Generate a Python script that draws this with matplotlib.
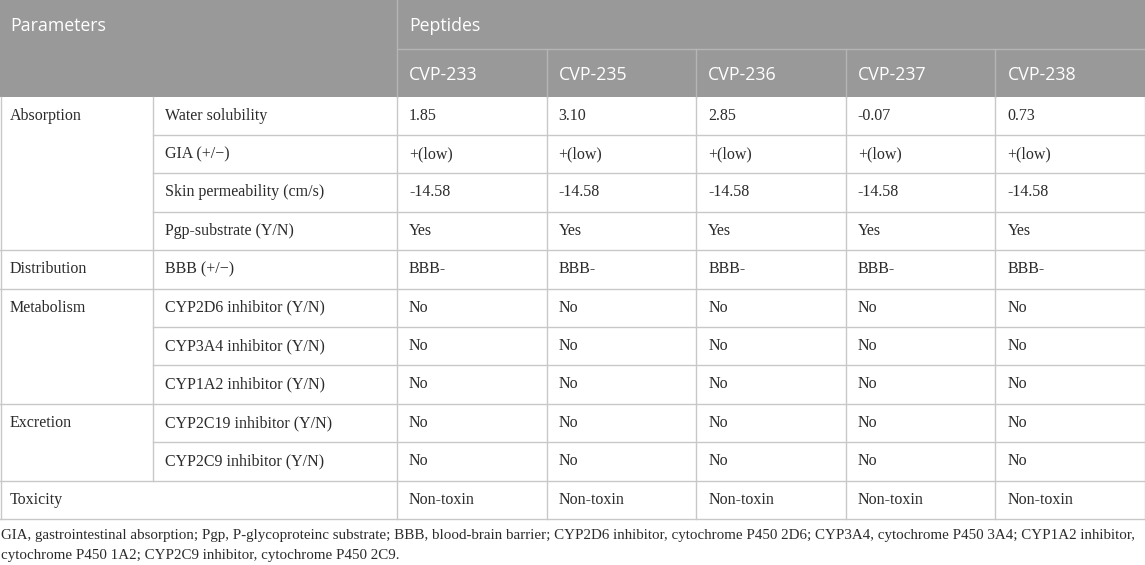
import matplotlib
matplotlib.use("Agg")
import matplotlib.pyplot as plt
from matplotlib.patches import Rectangle

# table content
peptides = ["CVP-233", "CVP-235", "CVP-236", "CVP-237", "CVP-238"]
groups = ["Absorption", "Distribution", "Metabolism", "Excretion", "Toxicity"]
group_sizes = [4, 1, 3, 2, 1]
parameters = ["Water solubility", "GIA (+/\u2212)", "Skin permeability (cm/s)",
              "Pgp-substrate (Y/N)", "BBB (+/\u2212)", "CYP2D6 inhibitor (Y/N)",
              "CYP3A4 inhibitor (Y/N)", "CYP1A2 inhibitor (Y/N)",
              "CYP2C19 inhibitor (Y/N)", "CYP2C9 inhibitor (Y/N)", ""]
water_solubility = ["1.85", "3.10", "2.85", "-0.07", "0.73"]
gia = ["+(low)"] * 5
skin = ["-14.58"] * 5
pgp = ["Yes"] * 5
bbb = ["BBB-"] * 5
cyp2d6 = ["No"] * 5
cyp3a4 = ["No"] * 5
cyp1a2 = ["No"] * 5
cyp2c19 = ["No"] * 5
cyp2c9 = ["No"] * 5
toxicity = ["Non-toxin"] * 5
values = [water_solubility, gia, skin, pgp, bbb, cyp2d6, cyp3a4, cyp1a2,
          cyp2c19, cyp2c9, toxicity]
footnote = ["GIA, gastrointestinal absorption; Pgp, P-glycoproteinc substrate; BBB, blood-brain barrier; "
            "CYP2D6 inhibitor, cytochrome P450 2D6; CYP3A4, cytochrome P450 3A4; CYP1A2 inhibitor,",
            "cytochrome P450 1A2; CYP2C9 inhibitor, cytochrome P450 2C9."]

# layout (pixels)
W, H = 1145, 565
col_x = [0, 153, 397] + [397 + 149.6 * (i + 1) for i in range(5)]
head_h = [0, 48.5, 96.5]
row_h = 38.4
pad = 12
line_c = "#c8c8c8"
head_c = "#999999"
txt_c = "#2b2b2b"

fig = plt.figure(figsize=(W / 100, H / 100), dpi=100)
ax = fig.add_axes([0, 0, 1, 1])
ax.set_xlim(0, W)
ax.set_ylim(H, 0)
ax.axis("off")

sans = "Open Sans"
serif = "Liberation Serif"

# header
ax.add_patch(Rectangle((0, 0), W, head_h[2], color=head_c, lw=0))
ax.plot([col_x[2], col_x[2]], [0, head_h[2]], color="#b5b5b5", lw=1)
ax.plot([col_x[2], W], [head_h[1], head_h[1]], color="#b5b5b5", lw=1)
for i in range(3, 7):
    ax.plot([col_x[i], col_x[i]], [head_h[1], head_h[2]], color="#b5b5b5", lw=1)
ax.text(col_x[0] + 10, head_h[1] / 2 + 2, "Parameters", color="white",
        fontsize=12.8, family=sans, va="center")
ax.text(col_x[2] + pad, head_h[1] / 2 + 2, "Peptides", color="white",
        fontsize=12.8, family=sans, va="center")
for i, p in enumerate(peptides):
    ax.text(col_x[2 + i] + pad, (head_h[1] + head_h[2]) / 2 + 2, p, color="white",
            fontsize=12.8, family=sans, va="center")

# body
y0 = head_h[2]
n = len(parameters)
bottom = y0 + n * row_h
r = 0
for g, size in zip(groups, group_sizes):
    top = y0 + r * row_h
    ax.text(col_x[0] + 10, top + row_h / 2, g, color=txt_c, fontsize=11.5,
            family=serif, va="center")
    ax.plot([0, W], [top + size * row_h] * 2, color=line_c, lw=1)
    for k in range(size):
        ri = r + k
        yc = y0 + ri * row_h + row_h / 2
        if parameters[ri]:
            ax.text(col_x[1] + pad, yc, parameters[ri], color=txt_c,
                    fontsize=11.5, family=serif, va="center")
        for j, v in enumerate(values[ri]):
            ax.text(col_x[2 + j] + pad, yc, v, color=txt_c, fontsize=11.5,
                    family=serif, va="center")
        if k < size - 1:
            ax.plot([col_x[1], W], [yc + row_h / 2] * 2, color=line_c, lw=1)
    # vertical line between group and parameter columns
    if g != "Toxicity":
        ax.plot([col_x[1], col_x[1]], [top, top + size * row_h], color=line_c, lw=1)
    r += size

for i in range(2, 7):
    ax.plot([col_x[i], col_x[i]], [y0, bottom], color=line_c, lw=1)
ax.plot([0.5, 0.5], [y0, bottom], color=line_c, lw=1)
ax.plot([W - 0.5, W - 0.5], [y0, bottom], color=line_c, lw=1)

# footnote
for i, line in enumerate(footnote):
    ax.text(1, bottom + 17 + i * 20, line, color=txt_c, fontsize=10.8,
            family=serif, va="center")

fig.savefig("out.png", dpi=100)
